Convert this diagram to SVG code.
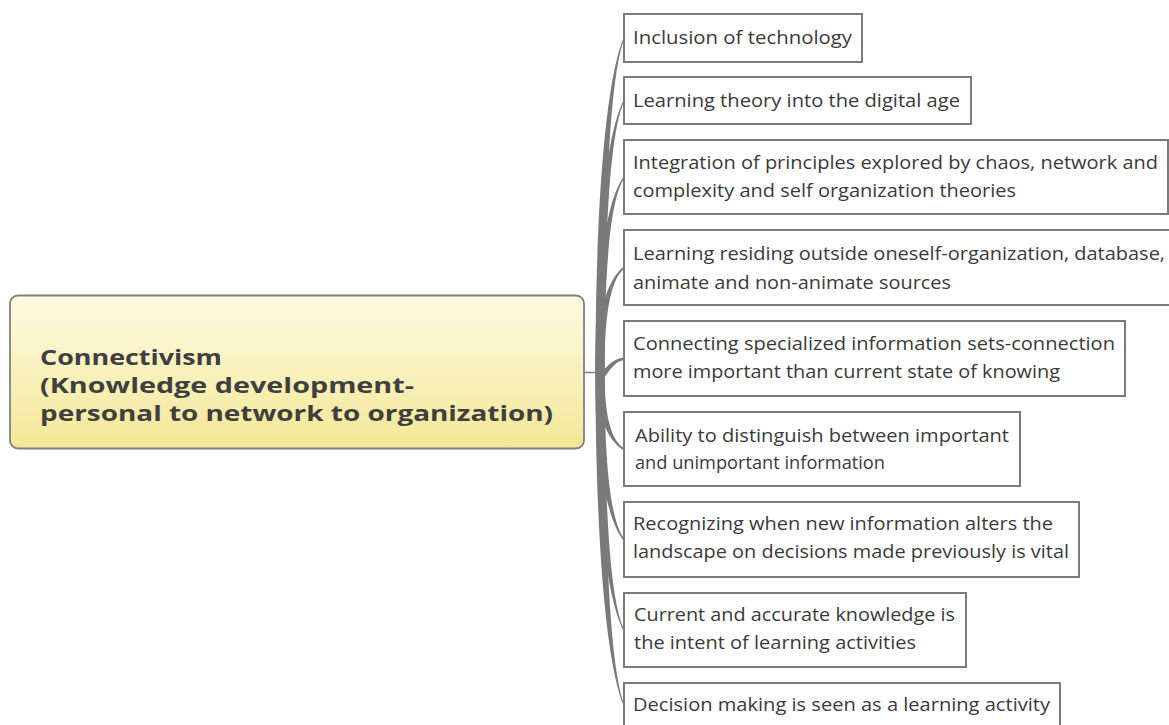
<svg xmlns="http://www.w3.org/2000/svg" width="1169" height="725" viewBox="0 0 1169 725">
<defs>
<linearGradient id="rootFill" x1="0" y1="0" x2="0" y2="1">
<stop offset="0" stop-color="#fdfbe3"/>
<stop offset="1" stop-color="#f3e796"/>
</linearGradient>
<style>
.box{fill:#ffffff;stroke:#7b7b7b;stroke-width:2}
.t{font-family:"Open Sans","Noto Sans","Liberation Sans",sans-serif;font-size:18.5px;fill:#3a3a3a}
.rt{font-family:"Open Sans","Noto Sans","Liberation Sans",sans-serif;font-size:20.5px;font-weight:bold;fill:#3f3f3f}
.br{fill:#7a7a7a;stroke:none}
</style>
</defs>
<rect width="1169" height="725" fill="#ffffff"/>
<g id="connectors">
<line x1="584" y1="372.5" x2="600" y2="372.5" stroke="#808080" stroke-width="1.5"/>
<path class="br" d="M595.5,372 C595.5,205 606,78.1 624,37 L624,39.5 C609.5,78.1 604.5,205 604.5,372 Z"/>
<path class="br" d="M595.5,372 C595.5,236.3 606,133.1 624,99.5 L624,102 C609.5,133.1 604.5,236.3 604.5,372 Z"/>
<path class="br" d="M595.5,372 C595.5,274.5 606,200.4 624,176 L624,178.5 C609.5,200.4 604.5,274.5 604.5,372 Z"/>
<path class="br" d="M595.5,372 C595.5,319.8 606,280 624,266.5 L624,269 C609.5,280 604.5,319.8 604.5,372 Z"/>
<path class="br" d="M597,377 C606,368 612,358.5 624,357.5 L624,360 C614,361.5 609,372 603,379 Z"/>
<path class="br" d="M595.5,372 C595.5,410.5 606,439.8 624,450.5 L624,448 C609.5,439.8 604.5,410.5 604.5,372 Z"/>
<path class="br" d="M595.5,372 C595.5,455.8 606,519.4 624,541 L624,538.5 C609.5,519.4 604.5,455.8 604.5,372 Z"/>
<path class="br" d="M595.5,372 C595.5,501 606,599 624,631.5 L624,629 C609.5,599 604.5,501 604.5,372 Z"/>
<path class="br" d="M595.5,372 C595.5,538.5 606,665 624,706.5 L624,704 C609.5,665 604.5,538.5 604.5,372 Z"/>
</g>
<g id="root">
<rect x="10" y="295.5" width="574" height="153" rx="8" ry="8" fill="url(#rootFill)" stroke="#808080" stroke-width="1.8"/>
<text class="rt" x="40" y="365" textLength="182" lengthAdjust="spacingAndGlyphs">Connectivism</text>
<text class="rt" x="40" y="393" textLength="374" lengthAdjust="spacingAndGlyphs">(Knowledge development-</text>
<text class="rt" x="40" y="421" textLength="513" lengthAdjust="spacingAndGlyphs">personal to network to organization)</text>
</g>
<g id="n1">
<rect class="box" x="624" y="14" width="238" height="48"/>
<text class="t" x="633" y="44" textLength="219" lengthAdjust="spacingAndGlyphs">Inclusion of technology</text>
</g>
<g id="n2">
<rect class="box" x="624" y="77" width="347" height="47"/>
<text class="t" x="633" y="107" textLength="327" lengthAdjust="spacingAndGlyphs">Learning theory into the digital age</text>
</g>
<g id="n3">
<rect class="box" x="624" y="140" width="544" height="74"/>
<text class="t" x="633" y="169" textLength="525" lengthAdjust="spacingAndGlyphs">Integration of principles explored by chaos, network and</text>
<text class="t" x="633" y="197" textLength="383" lengthAdjust="spacingAndGlyphs">complexity and self organization theories</text>
</g>
<g id="n4">
<rect class="box" x="624" y="230" width="560" height="75"/>
<text class="t" x="633" y="260" textLength="532" lengthAdjust="spacingAndGlyphs">Learning residing outside oneself-organization, database,</text>
<text class="t" x="633" y="289" textLength="318" lengthAdjust="spacingAndGlyphs">animate and non-animate sources</text>
</g>
<g id="n5">
<rect class="box" x="624" y="321" width="501" height="75"/>
<text class="t" x="633" y="350" textLength="482" lengthAdjust="spacingAndGlyphs">Connecting specialized information sets-connection</text>
<text class="t" x="633" y="378" textLength="427" lengthAdjust="spacingAndGlyphs">more important than current state of knowing</text>
</g>
<g id="n6">
<rect class="box" x="624" y="412" width="396" height="74"/>
<text class="t" x="635" y="442" textLength="374" lengthAdjust="spacingAndGlyphs">Ability to distinguish between important</text>
<text class="t" x="635" y="469" textLength="250" lengthAdjust="spacingAndGlyphs">and unimportant information</text>
</g>
<g id="n7">
<rect class="box" x="624" y="502" width="455" height="75"/>
<text class="t" x="633" y="530" textLength="420" lengthAdjust="spacingAndGlyphs">Recognizing when new information alters the</text>
<text class="t" x="633" y="558" textLength="436" lengthAdjust="spacingAndGlyphs">landscape on decisions made previously is vital</text>
</g>
<g id="n8">
<rect class="box" x="624" y="593" width="342" height="74"/>
<text class="t" x="634" y="621" textLength="321" lengthAdjust="spacingAndGlyphs">Current and accurate knowledge is</text>
<text class="t" x="634" y="649" textLength="282" lengthAdjust="spacingAndGlyphs">the intent of learning activities</text>
</g>
<g id="n9">
<rect class="box" x="624" y="683" width="436" height="50"/>
<text class="t" x="633" y="711" textLength="417" lengthAdjust="spacingAndGlyphs">Decision making is seen as a learning activity</text>
</g>
</svg>
